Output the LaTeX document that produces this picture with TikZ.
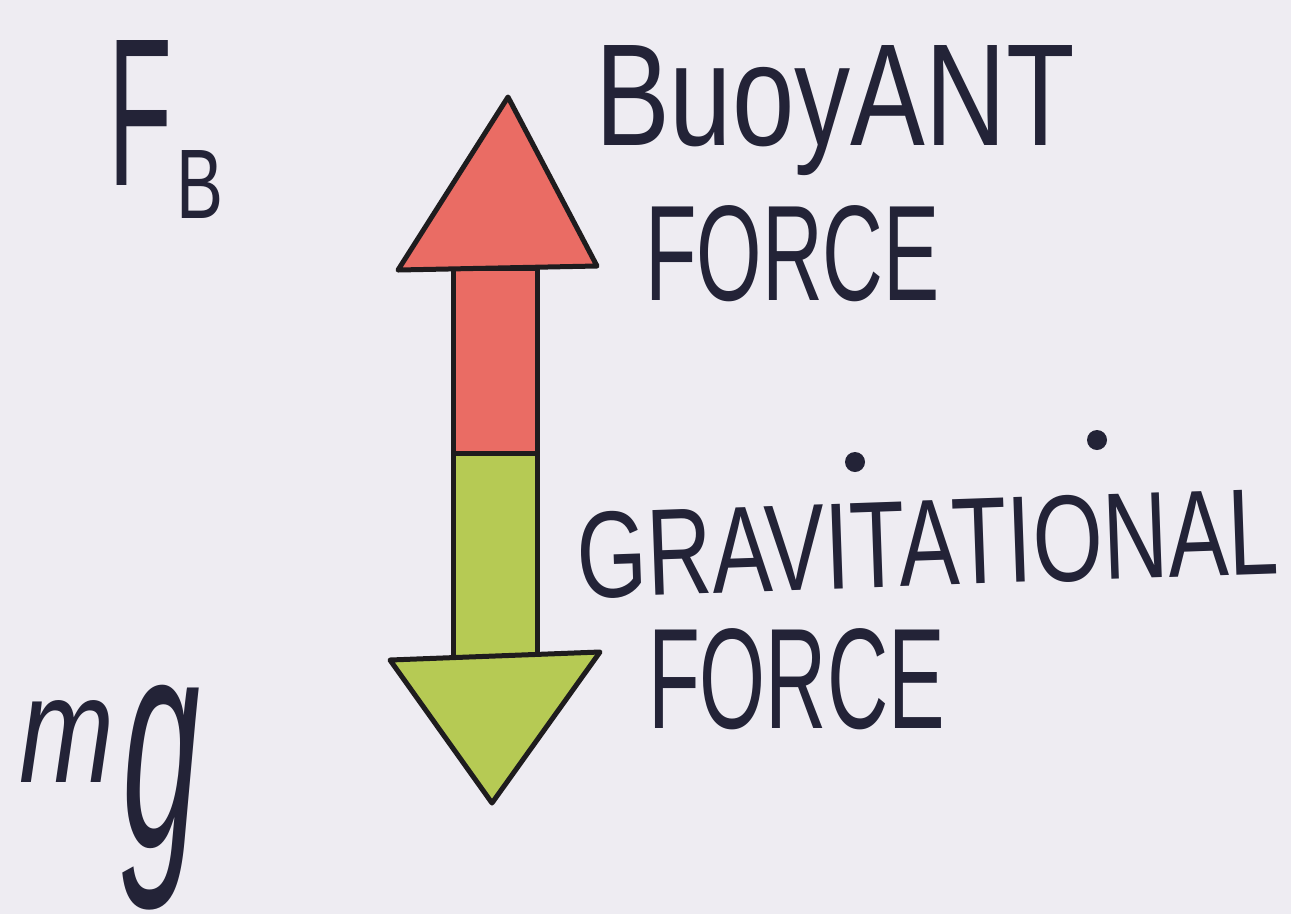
\documentclass[tikz,border=0pt]{standalone}
\usepackage{fontspec}
\setmainfont{Liberation Sans}
\usepackage{graphicx}
\definecolor{paper}{RGB}{238,236,242}
\definecolor{ink}{RGB}{35,35,55}
\definecolor{redfill}{RGB}{234,108,100}
\definecolor{greenfill}{RGB}{182,202,84}
\definecolor{outline}{RGB}{30,28,30}
\newcommand{\fitlbl}[3]{\resizebox{#1cm}{#2cm}{#3}}
\newcommand{\fitlbltot}[3]{\resizebox*{#1cm}{#2cm}{#3}}
\tikzset{
  lbl/.style={inner sep=0pt, outer sep=0pt, text=ink, font=\fontsize{40}{40}\selectfont},
  arrowpart/.style={draw=outline, line width=0.1cm, line join=round},
  idot/.style={fill=ink, draw=none}
}
\begin{document}
\begin{tikzpicture}[x=0.02cm, y=-0.02cm]
\fill[paper] (0,0) rectangle (1291,914);
\useasboundingbox (0,0) rectangle (1291,914);
% up arrow (buoyant force)
\filldraw[arrowpart, fill=redfill] (453,268) rectangle (537,453);
\filldraw[arrowpart, fill=redfill] (508,97) -- (597,266) -- (398,270) -- cycle;
% down arrow (gravitational force)
\filldraw[arrowpart, fill=greenfill] (453,453) rectangle (537,658);
\filldraw[arrowpart, fill=greenfill] (390,660) -- (600,652) -- (492,803) -- cycle;
% labels
\node[lbl, anchor=base west] (buoyant) at (595,145) {\fitlbl{9.6}{2.0}{BuoyANT}};
\node[lbl, anchor=base west] (force1) at (645,300) {\fitlbl{5.9}{1.9}{FORCE}};
\node[lbl, anchor=base west, rotate=2] (grav) at (578,598) {\fitlbl{14.04}{1.72}{GRAVITATIONAL}};
\node[lbl, anchor=base west] (force2) at (648,728) {\fitlbl{5.94}{2.0}{FORCE}};
\fill[idot] (855,462) circle (10);
\fill[idot] (1097,440) circle (10);
\node[lbl, anchor=base west] (F) at (108,185) {\fitlbl{1.28}{2.9}{F}};
\node[lbl, anchor=base west] (Bsub) at (176,218) {\fitlbl{0.94}{1.36}{B}};
\node[lbl, anchor=base west] (m) at (20,782) {\fitlbl{1.9}{1.64}{\itshape m}};
\node[lbl, anchor=north west] (g) at (122,685) {\fitlbltot{1.56}{4.5}{\itshape g}};
\end{tikzpicture}
\end{document}
